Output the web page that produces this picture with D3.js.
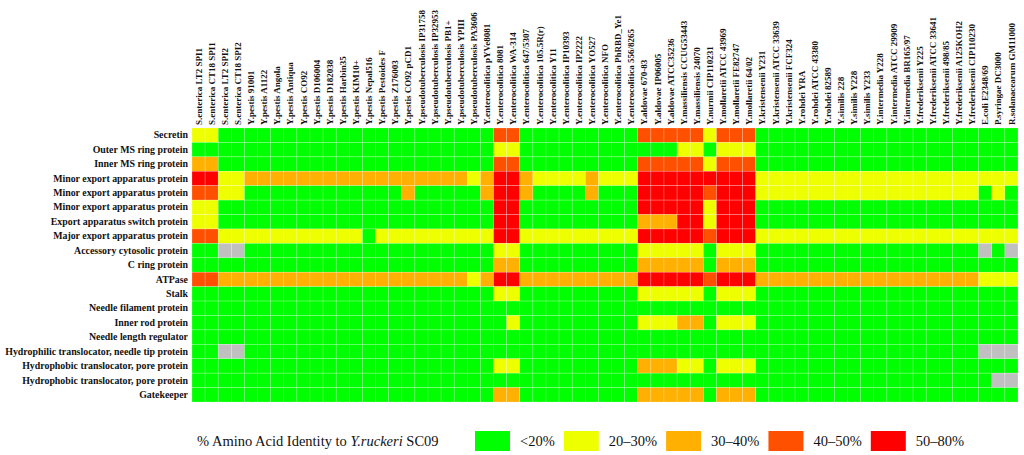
<!DOCTYPE html>
<html>
<head>
<meta charset="utf-8">
<script src="https://cdn.jsdelivr.net/npm/d3@7"></script>
<style>
  html, body { margin: 0; padding: 0; background: #fff; }
  svg { display: block; }
</style>
</head>
<body>
<svg id="chart" width="1024" height="455"></svg>
<script>
// ---------- DATA ----------
const strains = [
  "S.enterica LT2 SPI1", "S.enterica CT18 SPI1", "S.enterica LT2 SPI2", "S.enterica CT18 SPI2",
  "Y.pestis 91001", "Y.pestis A1122", "Y.pestis Angola", "Y.pestis Antiqua", "Y.pestis CO92",
  "Y.pestis D106004", "Y.pestis D182038", "Y.pestis Harbin35", "Y.pestis KIM10+", "Y.pestis Nepal516",
  "Y.pestis Pestoides F", "Y.pestis Z176003", "Y.pestis CO92 pCD1",
  "Y.pseudotuberculosis IP31758", "Y.pseudotuberculosis IP32953", "Y.pseudotuberculosis PB1+",
  "Y.pseudotuberculosis YPIII", "Y.pseudotuberculosis PA3606",
  "Y.enterocolitica pYVe8081", "Y.enterocolitica 8081", "Y.enterocolitica WA-314",
  "Y.enterocolitica 647/5307", "Y.enterocolitica 105.5R(r)", "Y.enterocolitica Y11",
  "Y.enterocolitica IP10393", "Y.enterocolitica IP2222", "Y.enterocolitica YO527",
  "Y.enterocolitica NFO", "Y.enterocolitica PhRBD_Ye1", "Y.enterocolitica 556/8265",
  "Y.aldovae 670-83", "Y.aldovae IP06005", "Y.aldovae ATCC35236",
  "Y.massiliensis CCUG53443", "Y.massiliensis 24070", "Y.nurmii CIP110231",
  "Y.mollaretii ATCC 43969", "Y.mollaretii FE82747", "Y.mollaretii 64/02",
  "Y.kristensenii Y231", "Y.kristensenii ATCC 33639", "Y.kristensenii FCF324",
  "Y.rohdei YRA", "Y.rohdei ATCC 43380", "Y.rohdei 82589",
  "Y.similis 228", "Y.similis Y228", "Y.similis Y233",
  "Y.intermedia Y228", "Y.intermedia ATCC 29909", "Y.intermedia BR165/97",
  "Y.frederiksenii Y225", "Y.frederiksenii ATCC 33641", "Y.frederiksenii 498/85",
  "Y.frederiksenii A125KOH2", "Y.frederiksenii CIP110230",
  "E.coli E2348/69", "P.syringae DC3000", "R.solanacearum GM11000"
];

const proteins = [
  "Secretin", "Outer MS ring protein", "Inner MS ring protein",
  "Minor export apparatus protein", "Minor export apparatus protein", "Minor export apparatus protein",
  "Export apparatus switch protein", "Major export apparatus protein", "Accessory cytosolic protein",
  "C ring protein", "ATPase", "Stalk", "Needle filament protein", "Inner rod protein",
  "Needle length regulator", "Hydrophilic translocator, needle tip protein",
  "Hydrophobic translocator, pore protein", "Hydrophobic translocator, pore protein", "Gatekeeper"
];

// identity class per strain (0:<20%, 1:20-30%, 2:30-40%, 3:40-50%, 4:50-80%, x: no homolog)
const identityRows = [
  "11 00 000000000000 0 00000 0 33 000000000 333 33 1 333 00000000000000000 000",
  "00 00 000000000000 0 00000 0 11 000000000 000 11 0 111 00000000000000000 000",
  "22 00 000000000000 0 00000 0 33 000000000 333 33 1 333 00000000000000000 000",
  "44 11 222222222222 2 22221 2 44 211112111 444 44 4 444 11111111111111111 111",
  "33 11 000000000000 2 00000 2 44 200002000 444 44 3 444 11111111111111111 010",
  "11 00 000000000000 0 00000 0 44 000000000 444 44 1 444 00000000000000000 000",
  "11 00 000000000000 0 00000 0 44 000000000 222 44 1 444 00000000000000000 000",
  "33 11 111111111011 1 11111 1 44 111111111 444 44 3 444 11111111111111111 111",
  "00 xx 000000000000 0 00000 0 11 000000000 111 11 0 111 00000000000000000 x0x",
  "00 00 000000000000 0 00000 0 22 000000000 222 22 0 222 00000000000000000 000",
  "33 22 222222222222 2 22221 2 44 222222222 444 44 3 444 22222222222222222 111",
  "00 00 000000000000 0 00000 0 11 000000000 111 11 0 111 00000000000000000 000",
  "00 00 000000000000 0 00000 0 00 000000000 000 00 0 000 00000000000000000 000",
  "00 00 000000000000 0 00000 0 01 000000000 111 22 0 111 00000000000000000 000",
  "00 00 000000000000 0 00000 0 00 000000000 000 00 0 000 00000000000000000 000",
  "00 xx 000000000000 0 00000 0 00 000000000 000 00 0 000 00000000000000000 xxx",
  "00 00 000000000000 0 00000 0 11 000000000 222 11 0 111 00000000000000000 000",
  "00 00 000000000000 0 00000 0 00 000000000 000 00 0 000 00000000000000000 0xx",
  "00 00 000000000000 0 00000 0 22 000000000 222 22 0 222 00000000000000000 000"
];

const legendLabels = ["<20%", "20\u201330%", "30\u201340%", "40\u201350%", "50\u201380%"];
const legendColors = ["#00FF00", "#EEFF00", "#FFB000", "#FF5000", "#FF0000"];
const missingColor = "#C0C0C0";

// ---------- BUILD ----------
const cells = [];
identityRows.forEach((r, ri) => {
  const codes = r.replace(/ /g, "").split("");
  codes.forEach((c, ci) => cells.push({ row: ri, col: ci, code: c }));
});

const svg = d3.select("#chart");
const mLeft = 192, mRight = 1018, mTop = 128, mBottom = 402;
const serif = "'Liberation Serif', 'Times New Roman', serif";

const x = d3.scaleBand().domain(d3.range(strains.length)).range([mLeft, mRight]).padding(0);
const y = d3.scaleBand().domain(d3.range(proteins.length)).range([mTop, mBottom]).padding(0);
const color = d3.scaleOrdinal().domain(["0","1","2","3","4"]).range(legendColors).unknown(missingColor);

svg.append("g").selectAll("rect").data(cells).join("rect")
  .attr("x", d => x(d.col))
  .attr("y", d => y(d.row))
  .attr("width", x.bandwidth())
  .attr("height", y.bandwidth())
  .attr("fill", d => color(d.code))
  .attr("stroke", "rgba(255,255,255,0.35)")
  .attr("stroke-width", 0.6);

// row labels via axis
const yAxis = d3.axisLeft(y).tickSize(0).tickPadding(4).tickFormat(i => proteins[i]);
const gy = svg.append("g").attr("transform", `translate(${mLeft},0)`).call(yAxis);
gy.select(".domain").remove();
gy.selectAll("text")
  .attr("font-family", serif)
  .attr("font-weight", "bold")
  .attr("font-size", 9.9)
  .attr("fill", "#111");

// column labels via axis
const xAxis = d3.axisTop(x).tickSize(0).tickPadding(3).tickFormat(i => strains[i]);
const gx = svg.append("g").attr("transform", `translate(0,${mTop})`).call(xAxis);
gx.select(".domain").remove();
gx.selectAll("text")
  .attr("font-family", serif)
  .attr("font-weight", "bold")
  .attr("font-size", 9)
  .attr("fill", "#111")
  .attr("text-anchor", "start")
  .attr("transform", "rotate(-90)")
  .attr("x", 3)
  .attr("y", 0)
  .attr("dy", "0.35em");

// legend
const lg = svg.append("g");
const ly = 441;
const title = lg.append("text")
  .attr("x", 197).attr("y", ly).attr("dy", "0.35em")
  .attr("font-family", serif)
  .attr("font-size", 14.5).attr("fill", "#111");
title.append("tspan").text("% Amino Acid Identity to ");
title.append("tspan").attr("font-style", "italic").text("Y.ruckeri");
title.append("tspan").text(" SC09");

let cx = 475;
legendLabels.forEach((lab, i) => {
  lg.append("rect").attr("x", cx).attr("y", ly - 10).attr("width", 35).attr("height", 20)
    .attr("fill", legendColors[i]);
  const t = lg.append("text").attr("x", cx + 45).attr("y", ly).attr("dy", "0.35em")
    .attr("font-family", serif)
    .attr("font-size", 14.5).attr("fill", "#111").text(lab);
  cx = cx + 45 + t.node().getComputedTextLength() + 9;
});
</script>
</body>
</html>
